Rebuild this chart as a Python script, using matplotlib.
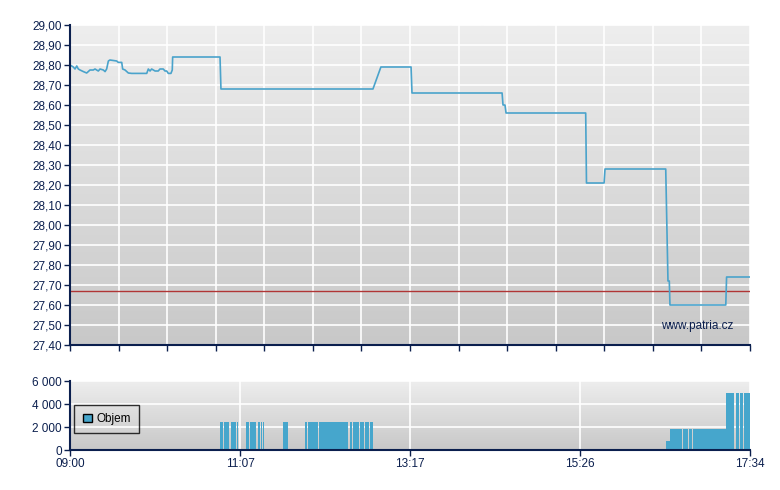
import numpy as np
import matplotlib
matplotlib.use('Agg')
import matplotlib.pyplot as plt
from matplotlib.patches import Patch

plt.rcParams['font.family'] = ['Liberation Sans', 'DejaVu Sans']

# minutes after 09:00 and traded price
price_t = [0, 2.5, 3.8, 5.1, 6.3, 7.6, 10.1, 12.6, 13.8, 15.1, 17.6, 18.9, 21.4,
           22.7, 25.2, 26.5, 27.7, 29.0, 30.2, 35.3, 36.5, 39.1, 39.8, 41.6, 44.1,
           46.6, 58.0, 59.2, 60.5, 61.7, 63.0, 64.3, 66.7, 68.0, 70.5, 71.8, 73.1,
           74.3, 76.3, 77.3, 77.6, 113.4, 114.1, 229.0, 235.0, 257.8, 258.5,
           326.6, 327.3, 328.8, 329.6, 389.8, 390.4, 403.7, 404.4, 450.3, 452.0,
           453.0, 453.5, 495.7, 496.3, 514.0]
price_v = [28.80, 28.79, 28.78, 28.795, 28.78, 28.775, 28.767, 28.76, 28.767,
           28.775, 28.775, 28.78, 28.77, 28.78, 28.775, 28.767, 28.78, 28.82,
           28.825, 28.82, 28.813, 28.813, 28.78, 28.775, 28.76, 28.758, 28.758,
           28.78, 28.77, 28.78, 28.775, 28.77, 28.77, 28.78, 28.78, 28.77, 28.77,
           28.758, 28.758, 28.775, 28.84, 28.84, 28.68, 28.68, 28.79, 28.79,
           28.66, 28.66, 28.60, 28.60, 28.56, 28.56, 28.21, 28.21, 28.28, 28.28,
           27.72, 27.72, 27.60, 27.60, 27.74, 27.74]
ref_price = 27.67

# volume intervals (minutes after 09:00)
vol_start = [113.4, 116.6, 118.9, 121.7, 126.2, 133.0, 136.3, 142.1, 144.1, 145.7,
             161.0, 177.6, 179.7, 188.2, 211.6, 213.9, 219.4, 223.0, 226.8,
             450.5, 451.5, 453.5, 463.4, 467.9, 470.7, 495.9, 503.4, 506.4, 509.3]
vol_end = [115.4, 118.4, 120.3, 125.7, 127.2, 135.3, 140.6, 143.4, 145.1, 146.6,
           164.8, 178.9, 187.2, 209.9, 212.9, 218.5, 222.2, 225.8, 228.8,
           451.3, 453.3, 462.8, 467.1, 470.2, 495.6, 501.9, 505.7, 508.7, 514.0]
vol_value = [2400] * 19 + [800, 800, 1850, 1850, 1850, 1850, 5000, 5000, 5000, 5000]

time_labels = ['09:00', '11:07', '13:17', '15:26', '17:34']
session_len = 514

navy = '#0b1f4e'
line_col = '#4aa3cb'

fig = plt.figure(figsize=(7.8, 4.9), dpi=100)
ax = fig.add_axes([70/780, 145/490, 680/780, 320/490])
axv = fig.add_axes([70/780, 40/490, 680/780, 69/490])

def background(a, y0, y1):
    # light at the top, darker towards the bottom
    grad = np.linspace(0, 1, 256).reshape(-1, 1)
    cmap = matplotlib.colors.LinearSegmentedColormap.from_list('bg', ['#c8c8c8', '#eeeeee'])
    a.imshow(grad, cmap=cmap, aspect='auto', extent=[0, session_len, y0, y1],
             zorder=0, origin='lower')

# main price chart
background(ax, 27.40, 29.00)
ax.plot(price_t, price_v, color=line_col, lw=1.2, zorder=4)
ax.axhline(ref_price, color='#b03535', lw=1, zorder=3)
ax.set_xlim(0, session_len)
ax.set_ylim(27.40, 29.00)
ax.set_xticks(np.linspace(0, session_len, 15))
ax.set_xticklabels([])
yt = np.round(np.arange(27.40, 29.001, 0.1), 2)
ax.set_yticks(yt)
ax.set_yticklabels([f'{v:.2f}'.replace('.', ',') for v in yt])
ax.grid(True, color='white', lw=1.2, zorder=1)
ax.text(0.975, 0.06, 'www.patria.cz', transform=ax.transAxes, ha='right',
        va='center', color=navy, fontsize=8.5, zorder=5)

# volume chart
background(axv, 0, 6000)
axv.bar(vol_start, vol_value, width=np.array(vol_end) - np.array(vol_start),
        align='edge', color='#46a6cc', lw=0, zorder=4)
axv.set_xlim(0, session_len)
axv.set_ylim(0, 6000)
axv.set_xticks(np.linspace(0, session_len, len(time_labels)))
axv.set_xticklabels(time_labels)
axv.set_yticks([0, 2000, 4000, 6000])
axv.set_yticklabels(['0', '2 000', '4 000', '6 000'])
axv.grid(True, color='white', lw=1.2, zorder=1)
leg = axv.legend(handles=[Patch(facecolor='#46a6cc', edgecolor='black', label='Objem')],
                 loc='center left', bbox_to_anchor=(0.003, 0.45), frameon=True,
                 fancybox=False, edgecolor='black', fontsize=8.5,
                 handlelength=0.75, handleheight=0.75, handletextpad=0.4,
                 borderpad=0.7, borderaxespad=0.2)
leg.get_frame().set_facecolor('none')
leg.get_frame().set_linewidth(1)

for a in (ax, axv):
    a.set_axisbelow(True)
    for s in ('top', 'right'):
        a.spines[s].set_visible(False)
    for s in ('left', 'bottom'):
        a.spines[s].set_color(navy)
        a.spines[s].set_linewidth(1.5)
        a.spines[s].set_zorder(6)
    a.tick_params(colors=navy, labelcolor=navy, labelsize=8.5, length=4,
                  width=1, direction='out', pad=2)

fig.savefig('out.png', dpi=100)
